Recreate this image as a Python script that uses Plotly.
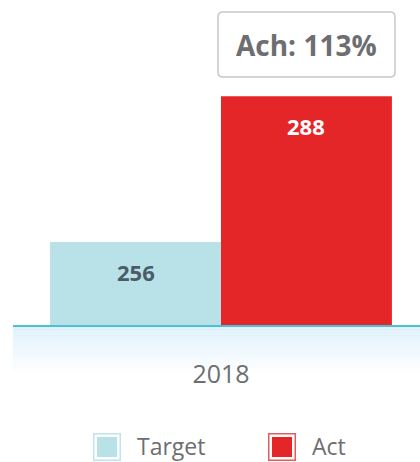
import plotly.graph_objects as go

categories = ["2018"]
series_names = ["Target", "Act"]
target_values = [256]
act_values = [288]
achievement_label = "Ach: 113%"

W, H = 420, 462
L, R, T, B = 13, 0, 10, 137
PW, PH = W - L - R, H - T - B

TARGET_COLOR = "#b8e1e8"
ACT_COLOR = "#e52629"
GRAY = "#6d6e71"
FONT = "Open Sans"

def px_x(px):
    return (px - L) / PW

def px_y(py):
    return (H - B - py) / PH

fig = go.Figure()
fig.add_trace(go.Bar(x=categories, y=target_values, name=series_names[0],
                     marker=dict(color=TARGET_COLOR, line=dict(width=0)),
                     showlegend=False, hoverinfo="skip"))
fig.add_trace(go.Bar(x=categories, y=act_values, name=series_names[1],
                     marker=dict(color=ACT_COLOR, line=dict(width=0)),
                     showlegend=False, hoverinfo="skip"))

bargap = 0.16
half = (1 - bargap) / 4

annotations = []
for v, off, col in [(target_values[0], -half, "#4b5c66"), (act_values[0], half, "white")]:
    annotations.append(dict(x=off, y=v, xref="x", yref="y", text=f"<b>{v}</b>",
                            showarrow=False, yshift=-30, xanchor="center", yanchor="middle",
                            font=dict(family=FONT, size=22, color=col)))

annotations.append(dict(x=px_x(306), y=px_y(45), xref="paper", yref="paper",
                        text=f"<b>{achievement_label}</b>", showarrow=False,
                        xanchor="center", yanchor="middle",
                        font=dict(family=FONT, size=28, color=GRAY)))

shapes = []
# rounded box
x0, x1 = px_x(218), px_x(395)
y0, y1 = px_y(77), px_y(12)
rx, ry = 5 / PW, 5 / PH
path = (f"M {x0+rx},{y0} L {x1-rx},{y0} Q {x1},{y0} {x1},{y0+ry} "
        f"L {x1},{y1-ry} Q {x1},{y1} {x1-rx},{y1} L {x0+rx},{y1} "
        f"Q {x0},{y1} {x0},{y1-ry} L {x0},{y0+ry} Q {x0},{y0} {x0+rx},{y0} Z")
shapes.append(dict(type="path", path=path, xref="paper", yref="paper",
                   line=dict(color="#c8c8c8", width=1.5), fillcolor="white"))

# gradient band under the axis
n = 30
top_rgb = (220, 240, 250)
for i in range(n):
    f = i / (n - 1)
    c = tuple(round(top_rgb[k] + (255 - top_rgb[k]) * f) for k in range(3))
    ya = 325 + i * 50 / n
    yb = 325 + (i + 1) * 50 / n
    shapes.append(dict(type="rect", xref="paper", yref="paper",
                       x0=0, x1=1, y0=px_y(yb), y1=px_y(ya),
                       fillcolor=f"rgb{c}", line=dict(width=0), layer="below"))

# custom legend
legend_items = [(series_names[0], TARGET_COLOR, "#bfe3ea", 93, 135),
                (series_names[1], ACT_COLOR, "#e8595b", 268, 310)]
for name, fill, border, bx, tx in legend_items:
    shapes.append(dict(type="rect", xref="paper", yref="paper",
                       x0=px_x(bx + 0.75), x1=px_x(bx + 27.25),
                       y0=px_y(460.25), y1=px_y(433.75),
                       line=dict(color=border, width=1.5), fillcolor="white"))
    shapes.append(dict(type="rect", xref="paper", yref="paper",
                       x0=px_x(bx + 4), x1=px_x(bx + 24),
                       y0=px_y(457), y1=px_y(437),
                       line=dict(width=0), fillcolor=fill))
    annotations.append(dict(x=px_x(tx), y=px_y(446), xref="paper", yref="paper",
                            text=name, showarrow=False, xanchor="left", yanchor="middle",
                            font=dict(family=FONT, size=23, color=GRAY)))

fig.update_layout(
    width=W, height=H,
    margin=dict(l=L, r=R, t=T, b=B),
    paper_bgcolor="white", plot_bgcolor="white",
    barmode="group", bargap=bargap, bargroupgap=0,
    showlegend=False,
    annotations=annotations, shapes=shapes,
    xaxis=dict(type="category", range=[-0.511, 0.489], showline=True,
               linecolor="#4fbfd6", linewidth=2, showgrid=False, zeroline=False,
               ticks="", ticklabelstandoff=26,
               tickfont=dict(family=FONT, size=25, color=GRAY, weight=500)),
    yaxis=dict(range=[237.8, 306.9], visible=False, showgrid=False),
)

fig.write_html("out.html", config={"displayModeBar": False},
               post_script="document.body.style.margin='0';document.body.style.overflow='hidden';")
